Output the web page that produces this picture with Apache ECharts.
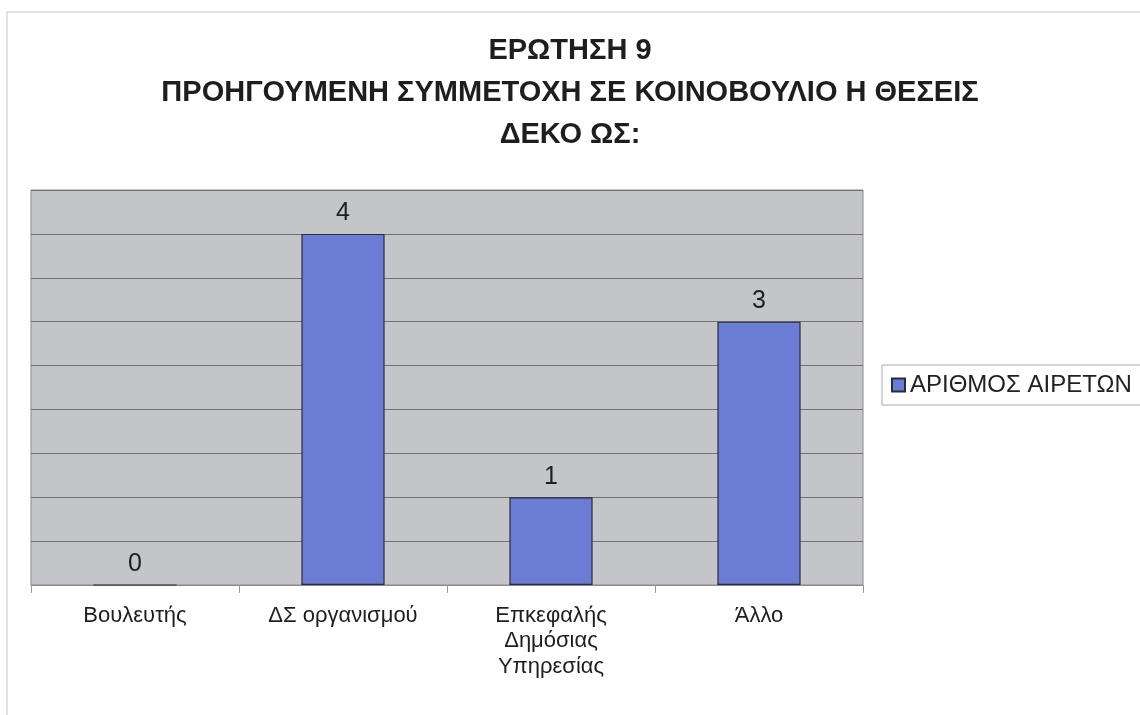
<!DOCTYPE html>
<html>
<head>
<meta charset="utf-8">
<script src="https://cdn.jsdelivr.net/npm/echarts@6/dist/echarts.min.js"></script>
<style>
  html, body { margin: 0; padding: 0; background: #fff; }
  #main { width: 1140px; height: 715px; }
</style>
</head>
<body>
<div id="main"></div>
<script>
var categories = ['Βουλευτής', 'ΔΣ οργανισμού', 'Επκεφαλής\nΔημόσιας\nΥπηρεσίας', 'Άλλο'];
var values = [0, 4, 1, 3];
var seriesName = 'ΑΡΙΘΜΟΣ ΑΙΡΕΤΩΝ';
var titleText = 'ΕΡΩΤΗΣΗ 9\nΠΡΟΗΓΟΥΜΕΝΗ ΣΥΜΜΕΤΟΧΗ ΣΕ ΚΟΙΝΟΒΟΥΛΙΟ Η ΘΕΣΕΙΣ\nΔΕΚΟ ΩΣ:';

var myChart = echarts.init(document.getElementById('main'));

var option = {
    animation: false,
    backgroundColor: '#ffffff',
    textStyle: { fontFamily: 'Liberation Sans, Arial, sans-serif' },
    title: {
        text: titleText,
        left: 'center',
        top: 30,
        padding: 0,
        textStyle: {
            fontSize: 29,
            fontWeight: 'bold',
            color: '#1e1e1e',
            lineHeight: 42
        }
    },
    // outer frame of the chart
    graphic: [
        {
            type: 'rect',
            shape: { x: 7, y: 12, width: 1140, height: 720 },
            style: { fill: 'none', stroke: '#c4c4c4', lineWidth: 1 },
            silent: true
        }
    ],
    legend: {
        data: [{ name: seriesName, icon: 'rect' }],
        left: 882,
        top: 365,
        orient: 'vertical',
        padding: [8, 60, 8, 9],
        itemWidth: 13,
        itemHeight: 13,
        itemGap: 6,
        borderColor: '#a8a8a8',
        borderWidth: 1,
        borderRadius: 0,
        textStyle: { fontSize: 24, color: '#222222', lineHeight: 24 }
    },
    grid: {
        left: 31,
        top: 190,
        width: 832,
        height: 395,
        show: true,
        backgroundColor: '#c3c5c8',
        borderColor: '#8a8a8a',
        borderWidth: 1
    },
    xAxis: {
        type: 'category',
        data: categories,
        axisLine: { show: true, lineStyle: { color: '#8a8a8a' } },
        axisTick: { show: true, length: 8, lineStyle: { color: '#9a9a9a' } },
        axisLabel: {
            fontSize: 22,
            color: '#1e1e1e',
            margin: 18,
            lineHeight: 25.5,
            interval: 0
        }
    },
    yAxis: {
        type: 'value',
        min: 0,
        max: 4.5,
        interval: 0.5,
        axisLabel: { show: false },
        axisLine: { show: false },
        axisTick: { show: false },
        splitLine: { show: true, lineStyle: { color: '#727272', width: 1 } }
    },
    series: [
        {
            name: seriesName,
            type: 'bar',
            data: values,
            barWidth: '40%',
            itemStyle: {
                color: '#6a7dd3',
                borderColor: '#2b2b3a',
                borderWidth: 1.2
            },
            label: {
                show: true,
                position: 'top',
                distance: 8,
                fontSize: 25,
                color: '#1e1e1e'
            }
        }
    ]
};

myChart.setOption(option);
</script>
</body>
</html>
